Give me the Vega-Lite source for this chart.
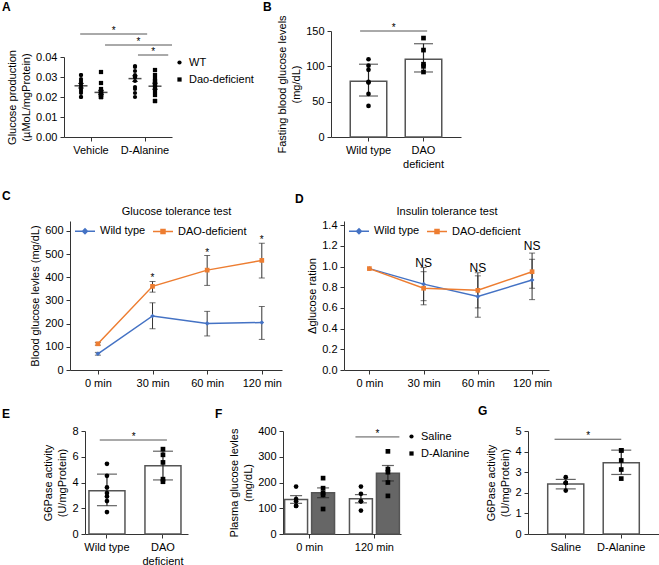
{
  "$schema": "https://vega.github.io/schema/vega-lite/v6.json",
  "padding": {"left": 2, "top": 0, "right": 0, "bottom": 0},
  "config": {
    "font": "Liberation Sans",
    "view": {"stroke": null},
    "axis": {"labelFontSize": 11, "titleFontSize": 11, "titleFontWeight": "normal", "labelColor": "#000", "titleColor": "#000", "domainColor": "#333", "tickColor": "#333", "grid": false, "tickSize": 4, "labelPadding": 3, "titlePadding": 4, "titleLineHeight": 14, "labelOverlap": false},
    "axisX": {"labelAngle": 0},
    "legend": {"labelFontSize": 11, "labelColor": "#000"},
    "title": {"fontSize": 12, "fontWeight": "bold", "anchor": "start", "frame": "group", "color": "#000"}
  },
  "datasets": {
    "a_pts": [
      {"grp": "Vehicle", "geno": "WT", "v": 0.031}, {"grp": "Vehicle", "geno": "WT", "v": 0.031}, {"grp": "Vehicle", "geno": "WT", "v": 0.029}, {"grp": "Vehicle", "geno": "WT", "v": 0.028}, {"grp": "Vehicle", "geno": "WT", "v": 0.027}, {"grp": "Vehicle", "geno": "WT", "v": 0.026}, {"grp": "Vehicle", "geno": "WT", "v": 0.025}, {"grp": "Vehicle", "geno": "WT", "v": 0.024}, {"grp": "Vehicle", "geno": "WT", "v": 0.023}, {"grp": "Vehicle", "geno": "WT", "v": 0.022}, {"grp": "Vehicle", "geno": "WT", "v": 0.020}, {"grp": "Vehicle", "geno": "WT", "v": 0.020},
      {"grp": "Vehicle", "geno": "Dao-deficient", "v": 0.0325}, {"grp": "Vehicle", "geno": "Dao-deficient", "v": 0.027}, {"grp": "Vehicle", "geno": "Dao-deficient", "v": 0.024}, {"grp": "Vehicle", "geno": "Dao-deficient", "v": 0.023}, {"grp": "Vehicle", "geno": "Dao-deficient", "v": 0.022}, {"grp": "Vehicle", "geno": "Dao-deficient", "v": 0.022}, {"grp": "Vehicle", "geno": "Dao-deficient", "v": 0.022}, {"grp": "Vehicle", "geno": "Dao-deficient", "v": 0.021}, {"grp": "Vehicle", "geno": "Dao-deficient", "v": 0.021}, {"grp": "Vehicle", "geno": "Dao-deficient", "v": 0.020}, {"grp": "Vehicle", "geno": "Dao-deficient", "v": 0.020}, {"grp": "Vehicle", "geno": "Dao-deficient", "v": 0.020},
      {"grp": "D-Alanine", "geno": "WT", "v": 0.0355}, {"grp": "D-Alanine", "geno": "WT", "v": 0.035}, {"grp": "D-Alanine", "geno": "WT", "v": 0.033}, {"grp": "D-Alanine", "geno": "WT", "v": 0.031}, {"grp": "D-Alanine", "geno": "WT", "v": 0.030}, {"grp": "D-Alanine", "geno": "WT", "v": 0.030}, {"grp": "D-Alanine", "geno": "WT", "v": 0.030}, {"grp": "D-Alanine", "geno": "WT", "v": 0.028}, {"grp": "D-Alanine", "geno": "WT", "v": 0.025}, {"grp": "D-Alanine", "geno": "WT", "v": 0.024}, {"grp": "D-Alanine", "geno": "WT", "v": 0.022}, {"grp": "D-Alanine", "geno": "WT", "v": 0.020},
      {"grp": "D-Alanine", "geno": "Dao-deficient", "v": 0.0335}, {"grp": "D-Alanine", "geno": "Dao-deficient", "v": 0.031}, {"grp": "D-Alanine", "geno": "Dao-deficient", "v": 0.029}, {"grp": "D-Alanine", "geno": "Dao-deficient", "v": 0.028}, {"grp": "D-Alanine", "geno": "Dao-deficient", "v": 0.027}, {"grp": "D-Alanine", "geno": "Dao-deficient", "v": 0.026}, {"grp": "D-Alanine", "geno": "Dao-deficient", "v": 0.025}, {"grp": "D-Alanine", "geno": "Dao-deficient", "v": 0.023}, {"grp": "D-Alanine", "geno": "Dao-deficient", "v": 0.021}, {"grp": "D-Alanine", "geno": "Dao-deficient", "v": 0.018}, {"grp": "D-Alanine", "geno": "Dao-deficient", "v": 0.018}
    ],
    "a_sum": [
      {"grp": "Vehicle", "geno": "WT", "mean": 0.0256, "lo": 0.0245, "hi": 0.0268},
      {"grp": "Vehicle", "geno": "Dao-deficient", "mean": 0.0223, "lo": 0.0213, "hi": 0.0233},
      {"grp": "D-Alanine", "geno": "WT", "mean": 0.0292, "lo": 0.0278, "hi": 0.0306},
      {"grp": "D-Alanine", "geno": "Dao-deficient", "mean": 0.0254, "lo": 0.0239, "hi": 0.0269}
    ],
    "a_sig": [
      {"id": 1, "from": "Vehicle", "to": "D-Alanine", "y": 0.0515},
      {"id": 2, "from": "Vehicle", "to": "D-Alanine", "y": 0.046},
      {"id": 3, "from": "D-Alanine", "to": "D-Alanine", "y": 0.041}
    ],
    "b_bar": [
      {"g": "Wild type", "mean": 79, "lo": 58, "hi": 103},
      {"g": "DAO deficient", "mean": 110, "lo": 92, "hi": 132}
    ],
    "b_pts": [
      {"g": "Wild type", "v": 110}, {"g": "Wild type", "v": 101}, {"g": "Wild type", "v": 95}, {"g": "Wild type", "v": 77}, {"g": "Wild type", "v": 78}, {"g": "Wild type", "v": 61}, {"g": "Wild type", "v": 44},
      {"g": "DAO deficient", "v": 140}, {"g": "DAO deficient", "v": 123}, {"g": "DAO deficient", "v": 103}, {"g": "DAO deficient", "v": 100}, {"g": "DAO deficient", "v": 92}
    ],
    "b_sig": [{"from": "Wild type", "to": "DAO deficient", "y": 150}],
    "c": [
      {"t": "0 min", "s": "Wild type", "v": 70, "lo": 64, "hi": 76},
      {"t": "30 min", "s": "Wild type", "v": 233, "lo": 178, "hi": 290},
      {"t": "60 min", "s": "Wild type", "v": 201, "lo": 147, "hi": 253},
      {"t": "120 min", "s": "Wild type", "v": 205, "lo": 132, "hi": 274},
      {"t": "0 min", "s": "DAO-deficient", "v": 113, "lo": 107, "hi": 119},
      {"t": "30 min", "s": "DAO-deficient", "v": 361, "lo": 336, "hi": 382},
      {"t": "60 min", "s": "DAO-deficient", "v": 431, "lo": 365, "hi": 494},
      {"t": "120 min", "s": "DAO-deficient", "v": 473, "lo": 397, "hi": 547}
    ],
    "c_star": [{"t": "30 min", "y": 382}, {"t": "60 min", "y": 494}, {"t": "120 min", "y": 547}],
    "d": [
      {"t": "0 min", "s": "Wild type", "v": 0.98, "lo": null, "hi": null},
      {"t": "30 min", "s": "Wild type", "v": 0.83, "lo": 0.67, "hi": 0.99},
      {"t": "60 min", "s": "Wild type", "v": 0.71, "lo": 0.51, "hi": 0.91},
      {"t": "120 min", "s": "Wild type", "v": 0.87, "lo": 0.68, "hi": 1.07},
      {"t": "0 min", "s": "DAO-deficient", "v": 0.98, "lo": null, "hi": null},
      {"t": "30 min", "s": "DAO-deficient", "v": 0.79, "lo": 0.63, "hi": 0.95},
      {"t": "60 min", "s": "DAO-deficient", "v": 0.77, "lo": 0.60, "hi": 0.94},
      {"t": "120 min", "s": "DAO-deficient", "v": 0.95, "lo": 0.79, "hi": 1.13}
    ],
    "d_ns": [{"t": "30 min", "y": 1.0}, {"t": "60 min", "y": 0.95}, {"t": "120 min", "y": 1.155}],
    "e_bar": [
      {"g": "Wild type", "mean": 3.36, "lo": 2.2, "hi": 4.65},
      {"g": "DAO deficient", "mean": 5.3, "lo": 4.2, "hi": 6.43}
    ],
    "e_pts": [
      {"g": "Wild type", "v": 5.45}, {"g": "Wild type", "v": 4.52}, {"g": "Wild type", "v": 3.62}, {"g": "Wild type", "v": 3.18}, {"g": "Wild type", "v": 2.92}, {"g": "Wild type", "v": 2.56}, {"g": "Wild type", "v": 1.7},
      {"g": "DAO deficient", "v": 6.59}, {"g": "DAO deficient", "v": 6.15}, {"g": "DAO deficient", "v": 5.56}, {"g": "DAO deficient", "v": 4.26}, {"g": "DAO deficient", "v": 4.06}
    ],
    "e_sig": [{"from": "Wild type", "to": "DAO deficient", "y": 7.3}],
    "f_bar": [
      {"t": "0 min", "treatment": "Saline", "mean": 134, "lo": 119, "hi": 149},
      {"t": "0 min", "treatment": "D-Alanine", "mean": 160, "lo": 141, "hi": 179},
      {"t": "120 min", "treatment": "Saline", "mean": 137, "lo": 121, "hi": 153},
      {"t": "120 min", "treatment": "D-Alanine", "mean": 236, "lo": 206, "hi": 266}
    ],
    "f_pts": [
      {"t": "0 min", "trt": "Saline", "v": 184}, {"t": "0 min", "trt": "Saline", "v": 136}, {"t": "0 min", "trt": "Saline", "v": 127}, {"t": "0 min", "trt": "Saline", "v": 109}, {"t": "0 min", "trt": "Saline", "v": 109},
      {"t": "0 min", "trt": "D-Alanine", "v": 217}, {"t": "0 min", "trt": "D-Alanine", "v": 178}, {"t": "0 min", "trt": "D-Alanine", "v": 160}, {"t": "0 min", "trt": "D-Alanine", "v": 152}, {"t": "0 min", "trt": "D-Alanine", "v": 97},
      {"t": "120 min", "trt": "Saline", "v": 184}, {"t": "120 min", "trt": "Saline", "v": 156}, {"t": "120 min", "trt": "Saline", "v": 127}, {"t": "120 min", "trt": "Saline", "v": 127}, {"t": "120 min", "trt": "Saline", "v": 91},
      {"t": "120 min", "trt": "D-Alanine", "v": 321}, {"t": "120 min", "trt": "D-Alanine", "v": 252}, {"t": "120 min", "trt": "D-Alanine", "v": 240}, {"t": "120 min", "trt": "D-Alanine", "v": 200}, {"t": "120 min", "trt": "D-Alanine", "v": 148}
    ],
    "f_sig": [{"from": "120 min", "to": "120 min", "y": 377}],
    "g_bar": [
      {"g": "Saline", "mean": 2.43, "lo": 2.19, "hi": 2.65},
      {"g": "D-Alanine", "mean": 3.46, "lo": 2.89, "hi": 4.07}
    ],
    "g_pts": [
      {"g": "Saline", "v": 2.76}, {"g": "Saline", "v": 2.48}, {"g": "Saline", "v": 2.48}, {"g": "Saline", "v": 2.48}, {"g": "Saline", "v": 2.11},
      {"g": "D-Alanine", "v": 4.06}, {"g": "D-Alanine", "v": 4.06}, {"g": "D-Alanine", "v": 3.57}, {"g": "D-Alanine", "v": 3.13}, {"g": "D-Alanine", "v": 2.69}
    ],
    "g_sig": [{"from": "Saline", "to": "D-Alanine", "y": 4.6}],
    "blank": [{"k": 0}]
  },
  "bounds": "flush",
  "spacing": 190,
  "resolve": {"scale": {"x": "independent", "y": "independent", "xOffset": "independent", "color": "independent", "fill": "independent", "stroke": "independent", "shape": "independent"}, "legend": {"color": "independent", "fill": "independent", "stroke": "independent", "shape": "independent"}},
  "vconcat": [
    {
      "bounds": "flush",
      "spacing": 267,
      "resolve": {"scale": {"x": "independent", "y": "independent", "xOffset": "independent", "color": "independent", "fill": "independent", "stroke": "independent", "shape": "independent"}, "legend": {"color": "independent", "fill": "independent", "stroke": "independent", "shape": "independent"}},
      "hconcat": [
        {
          "bounds": "flush",
          "spacing": 0,
          "resolve": {"scale": {"x": "independent", "y": "independent", "xOffset": "independent", "color": "independent", "fill": "independent", "stroke": "independent", "shape": "independent"}, "legend": {"color": "independent", "fill": "independent", "stroke": "independent", "shape": "independent"}},
          "vconcat": [
            {"width": 10, "height": 26, "data": {"name": "blank"}, "mark": {"type": "point", "opacity": 0, "size": 1}, "encoding": {}},
            {
              "width": 108, "height": 80,
              "title": {"text": "A", "dx": -62, "offset": 12},
              "layer": [
                {"data": {"name": "a_sum"}, "mark": {"type": "rule", "color": "#000", "strokeWidth": 1},
                 "encoding": {
                   "x": {"field": "grp", "type": "nominal", "scale": {"domain": ["Vehicle", "D-Alanine"], "paddingInner": 0, "paddingOuter": 0}, "axis": {"title": null}},
                   "xOffset": {"field": "geno", "type": "nominal", "scale": {"domain": ["WT", "Dao-deficient"], "paddingInner": 0, "paddingOuter": 0.35}},
                   "y": {"field": "lo", "type": "quantitative", "scale": {"domain": [0, 0.04], "nice": false}, "axis": {"values": [0, 0.01, 0.02, 0.03, 0.04], "tickCount": 20, "format": ".2f", "title": ["Glucose production", "(µMoL/mgProtein)"]}},
                   "y2": {"field": "hi"}}},
                {"data": {"name": "a_sum"}, "mark": {"type": "tick", "color": "#000", "size": 6, "thickness": 1},
                 "encoding": {"x": {"field": "grp", "type": "nominal"}, "xOffset": {"field": "geno", "type": "nominal"}, "y": {"field": "lo", "type": "quantitative"}}},
                {"data": {"name": "a_sum"}, "mark": {"type": "tick", "color": "#000", "size": 6, "thickness": 1},
                 "encoding": {"x": {"field": "grp", "type": "nominal"}, "xOffset": {"field": "geno", "type": "nominal"}, "y": {"field": "hi", "type": "quantitative"}}},
                {"data": {"name": "a_sum"}, "mark": {"type": "tick", "color": "#000", "size": 13, "thickness": 1.5},
                 "encoding": {"x": {"field": "grp", "type": "nominal"}, "xOffset": {"field": "geno", "type": "nominal"}, "y": {"field": "mean", "type": "quantitative"}}},
                {"data": {"name": "a_pts"}, "mark": {"type": "point", "filled": true, "size": 18, "color": "#000", "opacity": 1},
                 "encoding": {
                   "x": {"field": "grp", "type": "nominal"},
                   "xOffset": {"field": "geno", "type": "nominal"},
                   "y": {"field": "v", "type": "quantitative"},
                   "shape": {"field": "geno", "type": "nominal", "scale": {"domain": ["WT", "Dao-deficient"], "range": ["circle", "square"]},
                     "legend": {"title": null, "orient": "right", "offset": 2, "padding": 0, "symbolSize": 18, "rowPadding": 5, "labelOffset": 4}}}},
                {"data": {"name": "a_sig"}, "transform": [{"filter": "datum.id == 1"}], "mark": {"type": "rule", "color": "#555", "strokeWidth": 1},
                 "encoding": {"x": {"field": "from", "type": "nominal", "bandPosition": 0.3}, "x2": {"field": "to", "bandPosition": 0.54}, "y": {"field": "y", "type": "quantitative"}}},
                {"data": {"name": "a_sig"}, "transform": [{"filter": "datum.id == 2"}], "mark": {"type": "rule", "color": "#555", "strokeWidth": 1},
                 "encoding": {"x": {"field": "from", "type": "nominal", "bandPosition": 0.76}, "x2": {"field": "to", "bandPosition": 1.0}, "y": {"field": "y", "type": "quantitative"}}},
                {"data": {"name": "a_sig"}, "transform": [{"filter": "datum.id == 3"}], "mark": {"type": "rule", "color": "#555", "strokeWidth": 1},
                 "encoding": {"x": {"field": "from", "type": "nominal", "bandPosition": 0.37}, "x2": {"field": "to", "bandPosition": 0.93}, "y": {"field": "y", "type": "quantitative"}}},
                {"data": {"name": "a_sig"}, "transform": [{"filter": "datum.id == 1"}], "mark": {"type": "text", "text": "*", "fontSize": 10, "baseline": "alphabetic", "color": "#000"},
                 "encoding": {"x": {"field": "from", "type": "nominal", "bandPosition": 0.92}, "y": {"field": "y", "type": "quantitative"}}},
                {"data": {"name": "a_sig"}, "transform": [{"filter": "datum.id == 2"}], "mark": {"type": "text", "text": "*", "fontSize": 10, "baseline": "alphabetic", "color": "#000"},
                 "encoding": {"x": {"field": "to", "type": "nominal", "bandPosition": 0.38}, "y": {"field": "y", "type": "quantitative"}}},
                {"data": {"name": "a_sig"}, "transform": [{"filter": "datum.id == 3"}], "mark": {"type": "text", "text": "*", "fontSize": 10, "baseline": "alphabetic", "color": "#000"},
                 "encoding": {"x": {"field": "to", "type": "nominal", "bandPosition": 0.65}, "y": {"field": "y", "type": "quantitative"}}}
              ]
            }
          ]
        },
        {
          "width": 130, "height": 106,
          "title": {"text": "B", "dx": -68, "offset": 1},
          "layer": [
            {"data": {"name": "b_bar"}, "mark": {"type": "bar", "fill": "#fff", "stroke": "#555", "strokeWidth": 1.5},
             "encoding": {
               "x": {"field": "g", "type": "nominal", "scale": {"domain": ["Wild type", "DAO deficient"], "paddingInner": 0.336, "paddingOuter": 0.35}, "axis": {"title": null, "labelExpr": "datum.value == 'DAO deficient' ? ['DAO', 'deficient'] : datum.label", "labelLineHeight": 14}},
               "y": {"field": "mean", "type": "quantitative", "scale": {"domain": [0, 150], "nice": false}, "axis": {"values": [0, 50, 100, 150], "tickCount": 20, "format": "d", "title": ["Fasting blood glucose levels", "(mg/dL)"]}}}},
            {"data": {"name": "b_bar"}, "mark": {"type": "rule", "color": "#222", "strokeWidth": 1.2},
             "encoding": {"x": {"field": "g", "type": "nominal"}, "y": {"field": "lo", "type": "quantitative"}, "y2": {"field": "hi"}}},
            {"data": {"name": "b_bar"}, "mark": {"type": "tick", "color": "#222", "size": 19, "thickness": 1.2},
             "encoding": {"x": {"field": "g", "type": "nominal"}, "y": {"field": "lo", "type": "quantitative"}}},
            {"data": {"name": "b_bar"}, "mark": {"type": "tick", "color": "#222", "size": 19, "thickness": 1.2},
             "encoding": {"x": {"field": "g", "type": "nominal"}, "y": {"field": "hi", "type": "quantitative"}}},
            {"data": {"name": "b_pts"}, "mark": {"type": "point", "filled": true, "size": 22, "color": "#000", "opacity": 1},
             "encoding": {"x": {"field": "g", "type": "nominal"}, "y": {"field": "v", "type": "quantitative"},
               "shape": {"field": "g", "type": "nominal", "scale": {"domain": ["Wild type", "DAO deficient"], "range": ["circle", "square"]}, "legend": null}}},
            {"data": {"name": "b_sig"}, "mark": {"type": "rule", "color": "#555", "strokeWidth": 1},
             "encoding": {"x": {"field": "from", "type": "nominal", "bandPosition": 0.27}, "x2": {"field": "to", "bandPosition": 0.6}, "y": {"field": "y", "type": "quantitative"}}},
            {"data": {"name": "b_sig"}, "mark": {"type": "text", "text": "*", "fontSize": 10, "baseline": "alphabetic", "color": "#000"},
             "encoding": {"x": {"field": "from", "type": "nominal", "bandPosition": 1.19}, "y": {"field": "y", "type": "quantitative"}}}
          ]
        }
      ]
    },
    {
      "bounds": "flush",
      "spacing": 210,
      "resolve": {"scale": {"x": "independent", "y": "independent", "xOffset": "independent", "color": "independent", "fill": "independent", "stroke": "independent", "shape": "independent"}, "legend": {"color": "independent", "fill": "independent", "stroke": "independent", "shape": "independent"}},
      "vconcat": [
        {
          "bounds": "flush",
          "spacing": 0,
          "resolve": {"scale": {"x": "independent", "y": "independent", "xOffset": "independent", "color": "independent", "fill": "independent", "stroke": "independent", "shape": "independent"}, "legend": {"color": "independent", "fill": "independent", "stroke": "independent", "shape": "independent"}},
          "hconcat": [
            {"width": 6, "height": 1, "data": {"name": "blank"}, "mark": {"type": "point", "opacity": 0, "size": 1}, "encoding": {}},
            {
              "bounds": "flush",
              "spacing": 62,
              "resolve": {"scale": {"x": "independent", "y": "independent", "xOffset": "independent", "color": "independent", "fill": "independent", "stroke": "independent", "shape": "independent"}, "legend": {"color": "independent", "fill": "independent", "stroke": "independent", "shape": "independent"}},
              "hconcat": [
                {
                  "width": 212, "height": 149,
                  "title": {"text": "C", "dx": -68, "offset": 2},
                  "resolve": {"scale": {"color": "independent", "shape": "independent", "fill": "independent", "stroke": "independent"}, "axis": {"x": "independent"}},
                  "layer": [
                    {"data": {"name": "c"}, "mark": {"type": "rule", "color": "#333", "strokeWidth": 1},
                     "encoding": {
                       "x": {"field": "t", "type": "nominal", "scale": {"type": "point", "domain": ["0 min", "30 min", "60 min", "120 min"], "padding": 0.44, "align": 0.58}, "axis": {"title": null, "orient": "bottom"}},
                       "y": {"field": "lo", "type": "quantitative", "scale": {"domain": [0, 643], "nice": false}, "axis": {"values": [0, 100, 200, 300, 400, 500, 600], "tickCount": 20, "format": "d", "title": "Blood glucose levles (mg/dL)"}},
                       "y2": {"field": "hi"}}},
                    {"data": {"name": "c"}, "mark": {"type": "tick", "color": "#333", "size": 6, "thickness": 1},
                     "encoding": {"x": {"field": "t", "type": "nominal", "axis": null}, "y": {"field": "lo", "type": "quantitative"}}},
                    {"data": {"name": "c"}, "mark": {"type": "tick", "color": "#333", "size": 6, "thickness": 1},
                     "encoding": {"x": {"field": "t", "type": "nominal", "axis": null}, "y": {"field": "hi", "type": "quantitative"}}},
                    {"data": {"name": "c"}, "mark": {"type": "line", "strokeWidth": 1.5},
                     "encoding": {"x": {"field": "t", "type": "nominal", "axis": null}, "y": {"field": "v", "type": "quantitative"}, "order": {"value": null},
                       "color": {"field": "s", "type": "nominal", "scale": {"domain": ["Wild type", "DAO-deficient"], "range": ["#4472C4", "#ED7D31"]}, "legend": null}}},
                    {"data": {"name": "c"}, "mark": {"type": "point", "filled": true, "opacity": 1, "size": 22},
                     "encoding": {"x": {"field": "t", "type": "nominal", "axis": null}, "y": {"field": "v", "type": "quantitative"},
                       "color": {"field": "s", "type": "nominal", "scale": {"domain": ["Wild type", "DAO-deficient"], "range": ["#4472C4", "#ED7D31"]}, "legend": null},
                       "shape": {"field": "s", "type": "nominal", "scale": {"domain": ["Wild type", "DAO-deficient"], "range": ["diamond", "square"]}, "legend": null}}},
                    {"data": {"name": "c"}, "mark": {"type": "point", "filled": true, "opacity": 0},
                     "encoding": {"x": {"field": "t", "type": "nominal", "axis": {"orient": "top", "title": "Glucose tolerance test", "labels": false, "ticks": false, "domain": false, "titlePadding": 5}}, "y": {"field": "v", "type": "quantitative"},
                       "fill": {"field": "s", "type": "nominal", "scale": {"domain": ["Wild type", "DAO-deficient"], "range": ["#4472C4", "#ED7D31"]}, "legend": {"title": null, "orient": "none", "legendX": 4, "legendY": -1, "direction": "horizontal", "padding": 0, "symbolSize": 400, "symbolStrokeWidth": 1.5, "labelOffset": 4, "columnPadding": 4, "symbolOpacity": 1}},
                       "stroke": {"field": "s", "type": "nominal", "scale": {"domain": ["Wild type", "DAO-deficient"], "range": ["#4472C4", "#ED7D31"]}, "legend": {"title": null, "orient": "none", "legendX": 4, "legendY": -1, "direction": "horizontal", "padding": 0, "symbolSize": 400, "symbolStrokeWidth": 1.5, "labelOffset": 4, "columnPadding": 4, "symbolOpacity": 1}},
                       "shape": {"field": "s", "type": "nominal", "scale": {"domain": ["Wild type", "DAO-deficient"], "range": ["M-1,0H1M0,-0.24L0.24,0L0,0.24L-0.24,0Z", "M-1,0H1M-0.2,-0.2H0.2V0.2H-0.2Z"]}, "legend": {"title": null, "orient": "none", "legendX": 4, "legendY": -1, "direction": "horizontal", "padding": 0, "symbolSize": 400, "symbolStrokeWidth": 1.5, "labelOffset": 4, "columnPadding": 4, "symbolOpacity": 1}}}},
                    {"data": {"name": "c_star"}, "mark": {"type": "text", "text": "*", "fontSize": 10, "baseline": "alphabetic", "color": "#000"},
                     "encoding": {"x": {"field": "t", "type": "nominal", "axis": null}, "y": {"field": "y", "type": "quantitative"}}}
                  ]
                },
                {
                  "width": 205, "height": 149,
                  "title": {"text": "D", "dx": -49, "offset": -1},
                  "resolve": {"scale": {"color": "independent", "shape": "independent", "fill": "independent", "stroke": "independent"}, "axis": {"x": "independent"}},
                  "layer": [
                    {"data": {"name": "d"}, "mark": {"type": "rule", "color": "#333", "strokeWidth": 1},
                     "encoding": {
                       "x": {"field": "t", "type": "nominal", "scale": {"type": "point", "domain": ["0 min", "30 min", "60 min", "120 min"], "padding": 0.39, "align": 0.6}, "axis": {"title": null, "orient": "bottom"}},
                       "y": {"field": "lo", "type": "quantitative", "scale": {"domain": [0, 1.44], "nice": false}, "axis": {"values": [0, 0.2, 0.4, 0.6, 0.8, 1.0, 1.2, 1.4], "tickCount": 20, "format": ".1f", "title": "Δglucose ration"}},
                       "y2": {"field": "hi"}}},
                    {"data": {"name": "d"}, "mark": {"type": "tick", "color": "#333", "size": 6, "thickness": 1},
                     "encoding": {"x": {"field": "t", "type": "nominal", "axis": null}, "y": {"field": "lo", "type": "quantitative"}}},
                    {"data": {"name": "d"}, "mark": {"type": "tick", "color": "#333", "size": 6, "thickness": 1},
                     "encoding": {"x": {"field": "t", "type": "nominal", "axis": null}, "y": {"field": "hi", "type": "quantitative"}}},
                    {"data": {"name": "d"}, "mark": {"type": "line", "strokeWidth": 1.5},
                     "encoding": {"x": {"field": "t", "type": "nominal", "axis": null}, "y": {"field": "v", "type": "quantitative"}, "order": {"value": null},
                       "color": {"field": "s", "type": "nominal", "scale": {"domain": ["Wild type", "DAO-deficient"], "range": ["#4472C4", "#ED7D31"]}, "legend": null}}},
                    {"data": {"name": "d"}, "mark": {"type": "point", "filled": true, "opacity": 1, "size": 22},
                     "encoding": {"x": {"field": "t", "type": "nominal", "axis": null}, "y": {"field": "v", "type": "quantitative"},
                       "color": {"field": "s", "type": "nominal", "scale": {"domain": ["Wild type", "DAO-deficient"], "range": ["#4472C4", "#ED7D31"]}, "legend": null},
                       "shape": {"field": "s", "type": "nominal", "scale": {"domain": ["Wild type", "DAO-deficient"], "range": ["diamond", "square"]}, "legend": null}}},
                    {"data": {"name": "d"}, "mark": {"type": "point", "filled": true, "opacity": 0},
                     "encoding": {"x": {"field": "t", "type": "nominal", "axis": {"orient": "top", "title": "Insulin tolerance test", "labels": false, "ticks": false, "domain": false, "titlePadding": 5}}, "y": {"field": "v", "type": "quantitative"},
                       "fill": {"field": "s", "type": "nominal", "scale": {"domain": ["Wild type", "DAO-deficient"], "range": ["#4472C4", "#ED7D31"]}, "legend": {"title": null, "orient": "none", "legendX": 4, "legendY": -1, "direction": "horizontal", "padding": 0, "symbolSize": 400, "symbolStrokeWidth": 1.5, "labelOffset": 4, "columnPadding": 4, "symbolOpacity": 1}},
                       "stroke": {"field": "s", "type": "nominal", "scale": {"domain": ["Wild type", "DAO-deficient"], "range": ["#4472C4", "#ED7D31"]}, "legend": {"title": null, "orient": "none", "legendX": 4, "legendY": -1, "direction": "horizontal", "padding": 0, "symbolSize": 400, "symbolStrokeWidth": 1.5, "labelOffset": 4, "columnPadding": 4, "symbolOpacity": 1}},
                       "shape": {"field": "s", "type": "nominal", "scale": {"domain": ["Wild type", "DAO-deficient"], "range": ["M-1,0H1M0,-0.24L0.24,0L0,0.24L-0.24,0Z", "M-1,0H1M-0.2,-0.2H0.2V0.2H-0.2Z"]}, "legend": {"title": null, "orient": "none", "legendX": 4, "legendY": -1, "direction": "horizontal", "padding": 0, "symbolSize": 400, "symbolStrokeWidth": 1.5, "labelOffset": 4, "columnPadding": 4, "symbolOpacity": 1}}}},
                    {"data": {"name": "d_ns"}, "mark": {"type": "text", "text": "NS", "fontSize": 12, "baseline": "alphabetic", "color": "#000"},
                     "encoding": {"x": {"field": "t", "type": "nominal", "axis": null}, "y": {"field": "y", "type": "quantitative"}}}
                  ]
                }
              ]
            }
          ]
        },
        {
          "bounds": "flush",
          "spacing": 0,
          "resolve": {"scale": {"x": "independent", "y": "independent", "xOffset": "independent", "color": "independent", "fill": "independent", "stroke": "independent", "shape": "independent"}, "legend": {"color": "independent", "fill": "independent", "stroke": "independent", "shape": "independent"}},
          "hconcat": [
            {"width": 21, "height": 1, "data": {"name": "blank"}, "mark": {"type": "point", "opacity": 0, "size": 1}, "encoding": {}},
            {
              "bounds": "flush",
              "spacing": 95,
              "resolve": {"scale": {"x": "independent", "y": "independent", "xOffset": "independent", "color": "independent", "fill": "independent", "stroke": "independent", "shape": "independent"}, "legend": {"color": "independent", "fill": "independent", "stroke": "independent", "shape": "independent"}},
              "hconcat": [
                {
                  "width": 103, "height": 103,
                  "title": {"text": "E", "dx": -83, "offset": 4},
                  "layer": [
                    {"data": {"name": "e_bar"}, "mark": {"type": "bar", "fill": "#fff", "stroke": "#555", "strokeWidth": 1.5},
                     "encoding": {
                       "x": {"field": "g", "type": "nominal", "scale": {"domain": ["Wild type", "DAO deficient"], "paddingInner": 0.357, "paddingOuter": 0.098, "align": 0.36}, "axis": {"title": null, "labelExpr": "datum.value == 'DAO deficient' ? ['DAO', 'deficient'] : datum.label", "labelLineHeight": 14}},
                       "y": {"field": "mean", "type": "quantitative", "scale": {"domain": [0, 8], "nice": false}, "axis": {"values": [0, 2, 4, 6, 8], "tickCount": 20, "format": "d", "title": ["G6Pase activity", "(U/mgProtein)"]}}}},
                    {"data": {"name": "e_bar"}, "mark": {"type": "rule", "color": "#222", "strokeWidth": 1.2},
                     "encoding": {"x": {"field": "g", "type": "nominal"}, "y": {"field": "lo", "type": "quantitative"}, "y2": {"field": "hi"}}},
                    {"data": {"name": "e_bar"}, "mark": {"type": "tick", "color": "#222", "size": 20, "thickness": 1.2},
                     "encoding": {"x": {"field": "g", "type": "nominal"}, "y": {"field": "lo", "type": "quantitative"}}},
                    {"data": {"name": "e_bar"}, "mark": {"type": "tick", "color": "#222", "size": 20, "thickness": 1.2},
                     "encoding": {"x": {"field": "g", "type": "nominal"}, "y": {"field": "hi", "type": "quantitative"}}},
                    {"data": {"name": "e_pts"}, "mark": {"type": "point", "filled": true, "size": 22, "color": "#000", "opacity": 1},
                     "encoding": {"x": {"field": "g", "type": "nominal"}, "y": {"field": "v", "type": "quantitative"},
                       "shape": {"field": "g", "type": "nominal", "scale": {"domain": ["Wild type", "DAO deficient"], "range": ["circle", "square"]}, "legend": null}}},
                    {"data": {"name": "e_sig"}, "mark": {"type": "rule", "color": "#555", "strokeWidth": 1},
                     "encoding": {"x": {"field": "from", "type": "nominal", "bandPosition": 0.3}, "x2": {"field": "to", "bandPosition": 0.61}, "y": {"field": "y", "type": "quantitative"}}},
                    {"data": {"name": "e_sig"}, "mark": {"type": "text", "text": "*", "fontSize": 10, "baseline": "alphabetic", "color": "#000"},
                     "encoding": {"x": {"field": "from", "type": "nominal", "bandPosition": 1.24}, "y": {"field": "y", "type": "quantitative"}}}
                  ]
                },
                {
                  "bounds": "flush",
                  "spacing": 127,
                  "resolve": {"scale": {"x": "independent", "y": "independent", "xOffset": "independent", "color": "independent", "fill": "independent", "stroke": "independent", "shape": "independent"}, "legend": {"color": "independent", "fill": "independent", "stroke": "independent", "shape": "independent"}},
                  "hconcat": [
                    {
                      "width": 118, "height": 103,
                      "title": {"text": "F", "dx": -68, "offset": 4},
                      "layer": [
                        {"data": {"name": "f_bar"}, "transform": [{"filter": "datum.treatment == 'Saline'"}], "mark": {"type": "bar", "fill": "#ffffff", "stroke": "#555", "strokeWidth": 1.5},
                         "encoding": {
                           "x": {"field": "t", "type": "nominal", "scale": {"domain": ["0 min", "120 min"], "paddingInner": 0.23, "paddingOuter": 0.025}, "axis": {"title": null}},
                           "xOffset": {"field": "treatment", "type": "nominal", "scale": {"domain": ["Saline", "D-Alanine"], "paddingInner": 0.15, "paddingOuter": 0}},
                           "y": {"field": "mean", "type": "quantitative", "scale": {"domain": [0, 400], "nice": false}, "axis": {"values": [0, 100, 200, 300, 400], "tickCount": 20, "format": "d", "title": ["Plasma glucose levles", "(mg/dL)"]}}}},
                        {"data": {"name": "f_bar"}, "transform": [{"filter": "datum.treatment == 'D-Alanine'"}], "mark": {"type": "bar", "fill": "#666666", "stroke": "#555", "strokeWidth": 1.5},
                         "encoding": {"x": {"field": "t", "type": "nominal"}, "xOffset": {"field": "treatment", "type": "nominal"}, "y": {"field": "mean", "type": "quantitative"}}},
                        {"data": {"name": "f_bar"}, "mark": {"type": "rule", "color": "#222", "strokeWidth": 1.2},
                         "encoding": {"x": {"field": "t", "type": "nominal"}, "xOffset": {"field": "treatment", "type": "nominal"}, "y": {"field": "lo", "type": "quantitative"}, "y2": {"field": "hi"}}},
                        {"data": {"name": "f_bar"}, "mark": {"type": "tick", "color": "#222", "size": 12, "thickness": 1.2},
                         "encoding": {"x": {"field": "t", "type": "nominal"}, "xOffset": {"field": "treatment", "type": "nominal"}, "y": {"field": "lo", "type": "quantitative"}}},
                        {"data": {"name": "f_bar"}, "mark": {"type": "tick", "color": "#222", "size": 12, "thickness": 1.2},
                         "encoding": {"x": {"field": "t", "type": "nominal"}, "xOffset": {"field": "treatment", "type": "nominal"}, "y": {"field": "hi", "type": "quantitative"}}},
                        {"data": {"name": "f_pts"}, "mark": {"type": "point", "filled": true, "size": 22, "color": "#000", "opacity": 1},
                         "encoding": {"x": {"field": "t", "type": "nominal"}, "xOffset": {"field": "trt", "type": "nominal"}, "y": {"field": "v", "type": "quantitative"},
                           "shape": {"field": "trt", "type": "nominal", "scale": {"domain": ["Saline", "D-Alanine"], "range": ["circle", "square"]},
                             "legend": {"title": null, "orient": "right", "offset": 5, "padding": 0, "symbolSize": 18, "rowPadding": 5, "labelOffset": 4}}}},
                        {"data": {"name": "f_sig"}, "mark": {"type": "rule", "color": "#555", "strokeWidth": 1},
                         "encoding": {"x": {"field": "from", "type": "nominal", "bandPosition": 0.12}, "x2": {"field": "to", "bandPosition": 1.0}, "y": {"field": "y", "type": "quantitative"}}},
                        {"data": {"name": "f_sig"}, "mark": {"type": "text", "text": "*", "fontSize": 10, "baseline": "alphabetic", "color": "#000"},
                         "encoding": {"x": {"field": "from", "type": "nominal", "bandPosition": 0.56}, "y": {"field": "y", "type": "quantitative"}}}
                      ]
                    },
                    {
                      "width": 131, "height": 103,
                      "title": {"text": "G", "dx": -50, "offset": 7},
                      "layer": [
                        {"data": {"name": "g_bar"}, "mark": {"type": "bar", "fill": "#fff", "stroke": "#555", "strokeWidth": 1.5},
                         "encoding": {
                           "x": {"field": "g", "type": "nominal", "scale": {"domain": ["Saline", "D-Alanine"], "paddingInner": 0.35, "paddingOuter": 0.355}, "axis": {"title": null}},
                           "y": {"field": "mean", "type": "quantitative", "scale": {"domain": [0, 5], "nice": false}, "axis": {"values": [0, 1, 2, 3, 4, 5], "tickCount": 20, "format": "d", "title": ["G6Pase activity", "(U/mgProtein)"]}}}},
                        {"data": {"name": "g_bar"}, "mark": {"type": "rule", "color": "#222", "strokeWidth": 1.2},
                         "encoding": {"x": {"field": "g", "type": "nominal"}, "y": {"field": "lo", "type": "quantitative"}, "y2": {"field": "hi"}}},
                        {"data": {"name": "g_bar"}, "mark": {"type": "tick", "color": "#222", "size": 20, "thickness": 1.2},
                         "encoding": {"x": {"field": "g", "type": "nominal"}, "y": {"field": "lo", "type": "quantitative"}}},
                        {"data": {"name": "g_bar"}, "mark": {"type": "tick", "color": "#222", "size": 20, "thickness": 1.2},
                         "encoding": {"x": {"field": "g", "type": "nominal"}, "y": {"field": "hi", "type": "quantitative"}}},
                        {"data": {"name": "g_pts"}, "mark": {"type": "point", "filled": true, "size": 22, "color": "#000", "opacity": 1},
                         "encoding": {"x": {"field": "g", "type": "nominal"}, "y": {"field": "v", "type": "quantitative"},
                           "shape": {"field": "g", "type": "nominal", "scale": {"domain": ["Saline", "D-Alanine"], "range": ["circle", "square"]}, "legend": null}}},
                        {"data": {"name": "g_sig"}, "mark": {"type": "rule", "color": "#555", "strokeWidth": 1},
                         "encoding": {"x": {"field": "from", "type": "nominal", "bandPosition": 0.19}, "x2": {"field": "to", "bandPosition": 0.5}, "y": {"field": "y", "type": "quantitative"}}},
                        {"data": {"name": "g_sig"}, "mark": {"type": "text", "text": "*", "fontSize": 10, "baseline": "alphabetic", "color": "#000"},
                         "encoding": {"x": {"field": "from", "type": "nominal", "bandPosition": 1.12}, "y": {"field": "y", "type": "quantitative"}}}
                      ]
                    }
                  ]
                }
              ]
            }
          ]
        }
      ]
    }
  ]
}
